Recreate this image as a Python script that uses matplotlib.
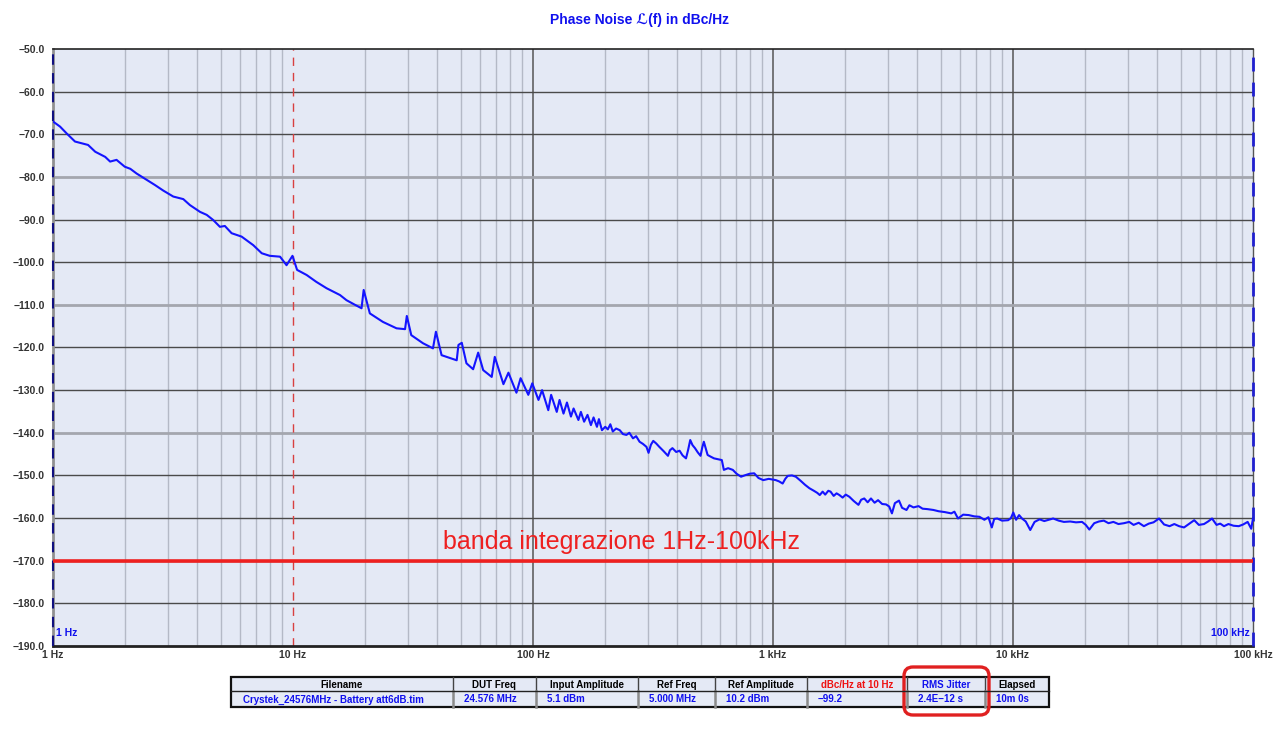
import numpy as np
import matplotlib
matplotlib.use('Agg')
import matplotlib.pyplot as plt
from matplotlib.patches import Rectangle, FancyBboxPatch

# Phase noise trace (Hz, dBc/Hz)
freq = [1.0, 1.07, 1.14, 1.235, 1.40, 1.50, 1.65, 1.73, 1.84, 1.99, 2.10, 2.23, 2.46, 2.66,
        2.88, 3.17, 3.49, 3.72, 4.10, 4.37, 4.65, 4.96, 5.20, 5.55, 6.11, 6.83, 7.41, 8.0,
        8.83, 9.40, 9.95, 10.4, 11.4, 12.5, 13.8, 15.7, 16.7, 18.0, 19.3, 19.7, 20.9, 23.7,
        27.0, 29.3, 29.8, 31.1, 34.8, 38.3, 39.4, 41.6, 48.1, 48.9, 50.5, 52.8, 56.3,
        59.1, 62.0, 67.3, 69.3, 75.3, 79.0, 85.3, 88.8, 95.6, 99.3, 105.4, 109.1,
        115.8, 119.0, 125.6, 129.0, 134.0, 138.5, 143.9, 147.6, 154.6, 158.3, 163.3,
        168.7, 174.3, 178.8, 184.7, 188.2, 193.8, 200, 205, 210, 215, 222, 230, 237,
        245, 252, 261, 269, 278, 287, 297, 303, 310, 317, 326, 336, 350, 365, 372, 381,
        395, 408, 420, 434, 443, 452, 462, 473, 486, 499, 507, 515, 534, 550, 568, 590,
        612, 624, 650, 680, 705, 736, 770, 800, 835, 870, 911, 960, 1027, 1060, 1097,
        1125, 1152, 1200, 1245, 1300, 1360, 1418, 1480, 1530, 1566, 1610, 1650, 1700,
        1737, 1790, 1840, 1891, 1950, 2010, 2080, 2170, 2270, 2330, 2400, 2480, 2560,
        2650, 2740, 2850, 2960, 3050, 3130, 3220, 3350, 3450, 3600, 3700, 3850, 4040,
        4200, 4400, 4660, 4900, 5200, 5530, 5700, 5900, 6200, 6540, 6900, 7250, 7600,
        7900, 8160, 8350, 8600, 9000, 9540, 9800, 10030, 10300, 10600, 10900, 11300,
        11800, 12300, 12900, 13500, 14100, 14700, 15500, 16300, 17300, 18300, 19400,
        20100, 20800, 21800, 22800, 23900, 25000, 26200, 27500, 29000, 30500, 31800,
        33400, 35100, 36800, 38500, 40600, 42600, 44900, 47000, 49200, 51600, 54000,
        56900, 59500, 62500, 65000, 67500, 70500, 73000, 75700, 79000, 83000, 87200,
        91000, 95000, 98300, 100000]
noise = [-67.0, -68.2, -69.8, -71.7, -72.5, -74.1, -75.3, -76.4, -76.0, -77.6, -78.1,
         -79.2, -80.7, -81.9, -83.2, -84.6, -85.2, -86.6, -88.2, -88.9, -90.1, -91.7,
         -91.5, -93.2, -94.0, -96.0, -97.9, -98.5, -98.7, -100.7, -98.5, -101.8, -103.0,
         -104.6, -106.1, -107.7, -108.9, -109.9, -110.8, -106.5, -112.0, -114.0, -115.5,
         -115.7, -112.6, -117.1, -119.0, -120.2, -116.3, -121.8, -123.0, -119.4, -118.9,
         -123.7, -125.1, -121.2, -125.3, -126.9, -122.2, -128.6, -125.9, -130.6, -127.2,
         -131.1, -128.4, -132.3, -130.0, -134.7, -131.1, -135.1, -132.3, -135.5, -132.9,
         -136.2, -134.3, -137.0, -135.1, -137.4, -135.8, -138.2, -136.4, -138.6, -136.8,
         -139.4, -138.6, -139.2, -138.0, -139.7, -139.0, -139.4, -140.3, -140.5, -140.0,
         -141.3, -140.8, -142.1, -142.6, -143.3, -144.7, -142.8, -141.9, -142.5, -143.3,
         -144.3, -145.4, -144.1, -143.6, -144.5, -144.2, -145.3, -146.0, -144.0, -141.7,
         -142.9, -143.6, -144.6, -145.4, -143.5, -142.1, -145.2, -145.6, -146.0, -146.2,
         -146.4, -148.7, -148.3, -148.7, -149.6, -150.3, -149.9, -149.6, -149.5, -150.6,
         -151.1, -150.8, -151.1, -151.4, -151.9, -150.8, -150.1, -150.0, -150.3, -151.2,
         -152.2, -153.0, -153.6, -154.1, -154.6, -153.8, -154.5, -153.6, -153.8, -154.8,
         -154.2, -154.6, -155.2, -154.5, -155.0, -156.0, -156.9, -155.7, -155.4, -156.3,
         -155.4, -156.4, -155.8, -156.7, -156.8, -157.3, -158.9, -156.5, -155.9, -157.6,
         -158.1, -157.0, -157.5, -157.2, -157.8, -157.9, -158.1, -158.4, -158.6, -158.9,
         -158.5, -160.1, -159.2, -159.3, -159.6, -159.7, -160.4, -159.8, -162.2, -160.2,
         -160.1, -160.6, -160.5, -160.0, -158.7, -160.4, -159.3, -160.1, -160.8, -162.8,
         -160.9, -160.3, -160.7, -160.4, -160.1, -160.6, -160.9, -160.8, -161.0, -160.9,
         -161.6, -162.7, -161.2, -160.8, -160.6, -161.2, -160.9, -161.4, -161.2, -160.9,
         -161.6, -161.1, -161.9, -161.3, -161.0, -160.1, -161.5, -161.9, -161.4, -161.9,
         -162.2, -161.4, -160.5, -161.6, -161.4, -160.8, -160.1, -161.6, -161.3, -161.9,
         -161.4, -161.8, -161.9, -161.5, -160.9, -162.5, -160.1]

y_ticks = [-50, -60, -70, -80, -90, -100, -110, -120, -130, -140, -150, -160, -170, -180, -190]
x_ticks = [1, 10, 100, 1e3, 1e4, 1e5]
x_labels = ['1 Hz', '10 Hz', '100 Hz', '1 kHz', '10 kHz', '100 kHz']

band_level = -170
band_text = 'banda integrazione 1Hz-100kHz'

col_heads = ['Filename', 'DUT Freq', 'Input Amplitude', 'Ref Freq', 'Ref Amplitude',
             'dBc/Hz at 10 Hz', 'RMS Jitter', 'Elapsed']
col_values = ['Crystek_24576MHz - Battery att6dB.tim', '24.576 MHz', '5.1 dBm',
              '5.000 MHz', '10.2 dBm', '\u221299.2', '2.4E\u221212 s', '10m 0s']
head_colors = ['black', 'black', 'black', 'black', 'black', '#ee1111', '#1010ee', 'black']

FONT = ['Liberation Sans', 'DejaVu Sans']
plt.rcParams['font.family'] = FONT
plt.rcParams['axes.unicode_minus'] = True

fig = plt.figure(figsize=(12.8, 7.37), dpi=100)
ax = fig.add_axes([53 / 1280, 91 / 737, 1200 / 1280, 597 / 737])
ax.set_facecolor('#e4e9f5')
ax.set_xscale('log')
ax.set_xlim(1, 1e5)
ax.set_ylim(-190, -50)

# grid
for dec in [1, 10, 100, 1000, 10000]:
    for m in range(2, 10):
        ax.axvline(dec * m, color='#b4b9c6', lw=1.0, zorder=1)
for xv in [100, 1e3, 1e4]:
    ax.axvline(xv, color='#555555', lw=1.1, zorder=1)
for yv in y_ticks[1:-1]:
    if yv in (-80, -110, -140):
        ax.axhline(yv, color='#a4a6ae', lw=2.0, zorder=1)
    else:
        ax.axhline(yv, color='#4a4a4a', lw=1.0, zorder=1)
ax.axvline(10, color='#d84040', lw=1.0, ls=(0, (6, 5)), zorder=2)
ax.axvline(1, color='#101080', lw=1.5, ls=(0, (5, 4)), zorder=3, clip_on=False)
ax.axvline(1e5, color='#2020d0', lw=2.0, ls=(0, (5, 4)), zorder=3, clip_on=False)

ax.plot(freq, noise, color='#1414ff', lw=1.5, zorder=4)
ax.axhline(band_level, color='#ee2020', lw=2.6, zorder=5)
ax.text(42, -165.6, band_text, color='#ee2020', fontsize=18, va='center', ha='left',
        family=FONT, zorder=6)

ax.text(1.03, -187, '1 Hz', color='#1010ee', fontsize=7.5, fontweight='bold',
        ha='left', va='center')
ax.text(9.7e4, -187, '100 kHz', color='#1010ee', fontsize=7.5, fontweight='bold',
        ha='right', va='center')

ax.set_yticks(y_ticks)
ax.set_yticklabels(['\u2212%.1f' % abs(v) for v in y_ticks])
ax.set_xticks(x_ticks)
ax.set_xticklabels(x_labels)
ax.minorticks_off()
ax.tick_params(axis='both', length=0, labelsize=7.5, labelcolor='#333333')
ax.tick_params(axis='y', pad=6)
ax.tick_params(axis='x', pad=3)
for lbl in ax.get_xticklabels() + ax.get_yticklabels():
    lbl.set_fontweight('bold')

ax.spines['top'].set_color('#222222')
ax.spines['top'].set_linewidth(1.2)
ax.spines['bottom'].set_color('#222222')
ax.spines['bottom'].set_linewidth(2.0)
ax.spines['left'].set_color('#909090')
ax.spines['left'].set_linewidth(2.0)
ax.spines['right'].set_color('#555555')
ax.spines['right'].set_linewidth(1.0)

fig.text(0.5, 1 - 20 / 737, 'Phase Noise \u2112(f) in dBc/Hz', color='#1010ee',
         fontsize=10, fontweight='bold', ha='center', va='center', family=FONT)

# info table under the plot, in pixel coordinates
tab = fig.add_axes([0, 0, 1, 1])
tab.set_xlim(0, 1280)
tab.set_ylim(737, 0)
tab.axis('off')
edges = [231, 453, 536, 638, 715, 807, 907, 985, 1049]
top, mid, bot = 677, 691, 707
tab.add_patch(Rectangle((edges[0], top), edges[-1] - edges[0], mid - top,
                        facecolor='#e4e9f5', edgecolor='none'))
tab.add_patch(Rectangle((edges[0], mid), edges[-1] - edges[0], bot - mid,
                        facecolor='#e6ebf6', edgecolor='none'))
for i, e in enumerate(edges[1:-1]):
    tab.plot([e, e], [top, mid], color='#444444', lw=1.0)
    tab.plot([e, e], [mid, bot], color='#8a8a8a', lw=1.8)
tab.plot([edges[0], edges[-1]], [mid, mid], color='#222222', lw=1.0)
tab.add_patch(Rectangle((edges[0], top), edges[-1] - edges[0], bot - top,
                        facecolor='none', edgecolor='#111111', lw=1.6))
for i, (h, v) in enumerate(zip(col_heads, col_values)):
    cx = (edges[i] + edges[i + 1]) / 2
    tab.text(cx, (top + mid) / 2 + 0.5, h, color=head_colors[i], fontsize=7,
             fontweight='bold', ha='center', va='center')
    tab.text(edges[i] + (12 if i == 0 else 11), (mid + bot) / 2 + 0.5, v, color='#1010ee',
             fontsize=7, fontweight='bold', ha='left', va='center')
tab.add_patch(FancyBboxPatch((904, 667), 85, 48,
                             boxstyle='round,pad=0,rounding_size=9',
                             facecolor='none', edgecolor='#e02020', lw=2.4))

fig.savefig('out.png', dpi=100)
